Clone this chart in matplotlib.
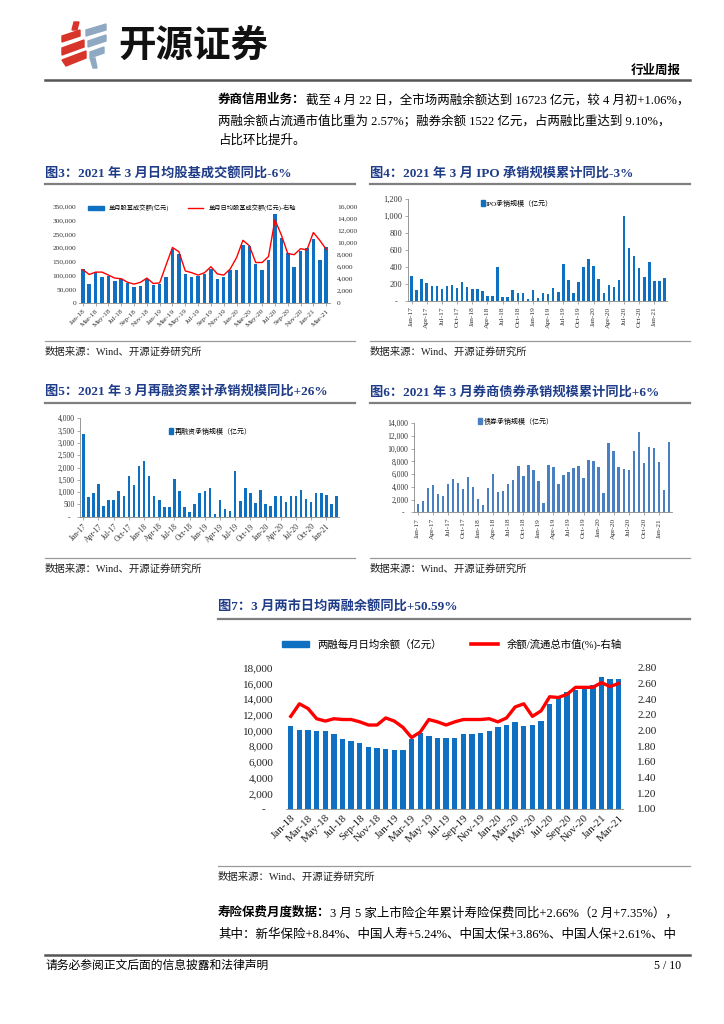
import matplotlib
matplotlib.use("Agg")
import matplotlib.pyplot as plt
from matplotlib.patches import Polygon, Patch
from matplotlib.lines import Line2D
import pandas as pd

plt.rcParams['font.family'] = ['Liberation Serif', 'Noto Sans CJK SC']
plt.rcParams['axes.unicode_minus'] = False

# ---- data ----
months_18 = list(pd.date_range('2018-01-01', '2021-03-01', freq='MS').strftime('%b-%y'))
months_17 = list(pd.date_range('2017-01-01', '2021-03-01', freq='MS').strftime('%b-%y'))

# 图3 股基成交额 (亿元)
turnover_month = [122000, 67000, 112000, 92000, 98000, 80000, 85000, 73000, 57000, 61000, 85000, 64000,
                  70000, 94000, 197000, 178000, 105000, 94000, 97000, 105000, 122000, 85000, 94000, 120000,
                  120000, 209000, 206000, 141000, 120000, 156000, 322000, 237000, 180000, 129000, 188000, 201000,
                  234000, 155000, 202000]
turnover_daily = [5500, 4700, 5100, 5100, 4600, 4100, 4000, 3400, 3100, 3400, 4100, 3200,
                  3300, 6300, 9200, 8500, 5300, 5000, 4600, 5000, 6000, 4800, 4600, 5600,
                  7500, 10400, 9500, 6700, 6700, 7700, 13800, 11300, 8200, 8000, 9000, 8800,
                  11700, 10400, 8900]

# 图4 IPO承销规模 (亿元)
ipo = [300, 125, 253, 206, 171, 171, 144, 171, 187, 156, 218, 160, 136, 144, 121, 54, 62, 405,
       51, 43, 125, 89, 93, 27, 125, 31, 89, 86, 156, 101, 440, 245, 89, 218, 400, 500, 412,
       261, 93, 187, 160, 249, 1000, 626, 525, 393, 280, 459, 237, 230, 276]

# 图5 再融资承销规模 (亿元)
refin = [3380, 800, 950, 1330, 430, 680, 680, 1040, 840, 1655, 1275, 2050, 2265, 1655, 830, 680,
         405, 405, 1530, 1040, 380, 175, 515, 960, 1040, 1165, 95, 680, 300, 230, 1860, 650, 1180,
         950, 540, 1070, 500, 430, 840, 830, 600, 830, 845, 1085, 705, 595, 950, 950, 880, 525, 855]

# 图6 债券承销规模 (亿元)
bond = [1260, 1730, 3830, 4250, 2880, 2570, 4460, 5240, 4610, 3670, 5560, 3980, 2100, 1150, 3880,
        6080, 3250, 3360, 4460, 5090, 7340, 5720, 7390, 6660, 4980, 1470, 7450, 7130, 4510, 5930,
        6400, 6920, 7340, 5400, 8180, 8080, 7130, 3040, 10960, 9650, 7130, 6770, 6660, 9650, 12640,
        7810, 10230, 10170, 7920, 3570, 11070]

# 图7 两融余额 (亿元) 与 余额/流通市值 (%)
margin_bal = [10550, 10050, 10050, 9960, 9880, 9500, 8950, 8660, 8360, 7850, 7770, 7640, 7470,
              7470, 8870, 9710, 9290, 9040, 9040, 9040, 9590, 9590, 9670, 9880, 10430, 10640,
              11020, 10510, 10640, 11190, 13390, 14400, 14900, 15100, 15300, 15800, 16800, 16600, 16500]
margin_ratio = [2.18, 2.34, 2.28, 2.15, 2.12, 2.15, 2.14, 2.14, 2.11, 2.07, 2.07, 2.16, 2.12,
                2.04, 1.91, 1.98, 2.14, 2.11, 2.07, 2.11, 2.14, 2.14, 2.14, 2.15, 2.11, 2.16,
                2.30, 2.34, 2.18, 2.25, 2.43, 2.42, 2.46, 2.55, 2.55, 2.55, 2.61, 2.56, 2.60]

BLUE = '#0f6fc0'
BLUE6 = '#4a7fc1'
RED = '#ff0000'
NAVY = '#1f3c88'
GRAY = '#8c8c8c'

W, H = 724, 1024
fig = plt.figure(figsize=(W / 100, H / 100), dpi=100)
fig.patch.set_facecolor('white')
renderer = fig.canvas.get_renderer()


def px_axes(x0, y0, x1, y1):
    return fig.add_axes([x0 / W, 1 - y1 / H, (x1 - x0) / W, (y1 - y0) / H])


def ftext(x, y, s, **kw):
    kw.setdefault('va', 'center')
    return fig.text(x / W, 1 - y / H, s, **kw)


def hline(y, x0, x1, lw=1.0, color=GRAY):
    fig.add_artist(Line2D([x0 / W, x1 / W], [1 - y / H, 1 - y / H], lw=lw, color=color))


def rich_line(x, y, parts, size=9):
    # parts: list of (text, bold)
    for s, bold in parts:
        t = ftext(x, y, s, fontsize=size, weight='bold' if bold else 'normal', color='black')
        bb = t.get_window_extent(renderer=renderer)
        x += bb.width


def fmt(v, dash='0'):
    return dash if v == 0 else f'{v:,.0f}'


def block_frame(x0, x1, ytitle, yline, ysrc_line, title):
    ftext(x0, ytitle, title, fontsize=9.5, weight='bold', color=NAVY)
    hline(yline, x0, x1, lw=1.6, color='#7f7f7f')
    hline(ysrc_line, x0, x1, lw=0.9, color='#9a9a9a')
    ftext(x0, ysrc_line + 11, '数据来源：Wind、开源证券研究所', fontsize=7.5, color='#222222')


def style_axes(ax, left_spine=True):
    for s in ['top', 'right']:
        ax.spines[s].set_visible(False)
    ax.spines['left'].set_visible(left_spine)
    ax.spines['left'].set_color('#888888')
    ax.spines['bottom'].set_color('#888888')
    ax.spines['left'].set_linewidth(0.6)
    ax.spines['bottom'].set_linewidth(0.6)
    ax.set_facecolor('none')


# ---- page header ----
red_logo = [[(62, 36), (80, 30), (80, 36), (62, 42)],
            [(62, 48), (84, 40), (84, 47), (62, 55)],
            [(62, 60), (86, 51), (86, 58), (66, 66)],
            [(74, 22), (79, 22), (77, 30), (72, 30)]]
for pts in red_logo:
    fig.add_artist(Polygon([(x / W, 1 - y / H) for x, y in pts], closed=True,
                           color='#d7342a', transform=fig.transFigure))
blue_logo = [[(86, 30), (106, 24), (106, 30), (86, 36)],
             [(88, 41), (106, 35), (106, 41), (88, 47)],
             [(90, 52), (104, 47), (104, 53), (90, 58)],
             [(90, 58), (95, 58), (97, 68), (93, 68)]]
for pts in blue_logo:
    fig.add_artist(Polygon([(x / W, 1 - y / H) for x, y in pts], closed=True,
                           color='#8ea9c1', transform=fig.transFigure))
ftext(118, 45, '开源证券', fontsize=27, weight='bold', color='#111111',
      family=['Noto Sans CJK SC'])
ftext(681, 71, '行业周报', fontsize=9, weight='bold', ha='right')
hline(80, 45, 690, lw=1.8, color='#555555')

rich_line(218, 100, [('券商信用业务：', True),
                     ('截至 4 月 22 日，全市场两融余额达到 16723 亿元，较 4 月初+1.06%，', False)])
rich_line(218, 121, [('两融余额占流通市值比重为 2.57%；融券余额 1522 亿元，占两融比重达到 9.10%，', False)])
rich_line(218, 141, [('占比环比提升。', False)])

# ---- 图3 ----
block_frame(45, 355, 174, 184, 341, '图3：2021 年 3 月日均股基成交额同比-6%')
ax3 = px_axes(79, 206.7, 330, 302.7)
x3 = list(range(len(months_18)))
ax3.bar(x3, turnover_month, width=0.55, color=BLUE, label='单月股基成交额(亿元)')
ax3.set_ylim(0, 350000)
ax3.set_xlim(-0.6, len(x3) - 0.4)
ax3.set_yticks(range(0, 350001, 50000))
ax3.set_yticklabels([fmt(v) for v in range(0, 350001, 50000)], fontsize=5.3, color='#333333')
ax3.set_xticks(x3[::2])
ax3.set_xticklabels(months_18[::2], rotation=45, ha='right', rotation_mode='anchor',
                    fontsize=5.3, color='#333333')
ax3.tick_params(axis='y', length=0, pad=2)
ax3.tick_params(axis='x', length=2, width=0.5, color='#888888', pad=2)
style_axes(ax3, left_spine=False)
ax3r = ax3.twinx()
ax3r.plot(x3, turnover_daily, color=RED, lw=1.0, label='单月日均股基成交额(亿元)-右轴')
ax3r.set_ylim(0, 16000)
ax3r.set_yticks(range(0, 16001, 2000))
ax3r.set_yticklabels([fmt(v) for v in range(0, 16001, 2000)], fontsize=5.3, color='#333333')
ax3r.tick_params(axis='y', length=0, pad=5)
for s in ['top', 'right', 'left', 'bottom']:
    ax3r.spines[s].set_visible(False)
h3 = [Patch(color=BLUE), Line2D([], [], color=RED, lw=1.0)]
ax3r.legend(h3, ['单月股基成交额(亿元)', '单月日均股基成交额(亿元)-右轴'], ncol=2, frameon=False,
            loc='center', bbox_to_anchor=(192 / W, 1 - 208 / H), bbox_transform=fig.transFigure,
            fontsize=4.5, handlelength=2.5, handleheight=0.5, columnspacing=3)

# ---- 图4 ----
block_frame(370, 690, 174, 184, 341, '图4：2021 年 3 月 IPO 承销规模累计同比-3%')
ax4 = px_axes(408, 199, 667, 301)
x17 = list(range(len(months_17)))
ax4.bar(x17, ipo, width=0.5, color=BLUE)
ax4.set_ylim(0, 1200)
ax4.set_xlim(-0.7, len(x17) - 0.5)
ax4.set_yticks(range(0, 1201, 200))
ax4.set_yticklabels([fmt(v, '-  ') for v in range(0, 1201, 200)], fontsize=6, color='#333333')
ax4.set_xticks(x17[::3])
ax4.set_xticklabels(months_17[::3], rotation=90, ha='center', va='top', fontsize=5.3, color='#333333')
ax4.tick_params(axis='both', length=2, width=0.5, color='#888888', pad=2)
style_axes(ax4)
ax4.legend([Patch(color=BLUE)], ['IPO承销规模（亿元）'], frameon=False, loc='center',
           bbox_to_anchor=(517 / W, 1 - 203 / H), bbox_transform=fig.transFigure,
           fontsize=5, handlelength=0.6, handleheight=0.9, handletextpad=0.2)

# ---- 图5 ----
block_frame(45, 355, 392, 403, 558, '图5：2021 年 3 月再融资累计承销规模同比+26%')
ax5 = px_axes(80, 418.3, 339, 516.7)
ax5.bar(x17, refin, width=0.5, color=BLUE)
ax5.set_ylim(0, 4000)
ax5.set_xlim(-0.65, len(x17) - 0.5)
ax5.set_yticks(range(0, 4001, 500))
ax5.set_yticklabels([fmt(v, '-  ') for v in range(0, 4001, 500)], fontsize=5.5, color='#333333')
ax5.set_xticks(x17[::3])
ax5.set_xticklabels(months_17[::3], rotation=45, ha='right', rotation_mode='anchor',
                    fontsize=5.5, color='#333333')
ax5.tick_params(axis='both', length=2, width=0.5, color='#888888', pad=2)
style_axes(ax5)
ax5.legend([Patch(color=BLUE)], ['再融资承销规模（亿元）'], frameon=False, loc='center',
           bbox_to_anchor=(210 / W, 1 - 431 / H), bbox_transform=fig.transFigure,
           fontsize=5, handlelength=0.6, handleheight=0.9, handletextpad=0.2)

# ---- 图6 ----
block_frame(370, 690, 392, 403, 558, '图6：2021 年 3 月券商债券承销规模累计同比+6%')
ax6 = px_axes(414, 423.3, 672, 512.3)
ax6.bar(x17, bond, width=0.5, color=BLUE6)
ax6.set_ylim(0, 14000)
ax6.set_xlim(-0.75, len(x17) - 0.4)
ax6.set_yticks(range(0, 14001, 2000))
ax6.set_yticklabels([fmt(v, '-  ') for v in range(0, 14001, 2000)], fontsize=5.5, color='#333333')
ax6.set_xticks(x17[::3])
ax6.set_xticklabels(months_17[::3], rotation=90, ha='center', va='top', fontsize=5.3, color='#333333')
ax6.tick_params(axis='both', length=2, width=0.5, color='#888888', pad=2)
style_axes(ax6)
ax6.legend([Patch(color=BLUE6)], ['债券承销规模（亿元）'], frameon=False, loc='center',
           bbox_to_anchor=(516 / W, 1 - 421 / H), bbox_transform=fig.transFigure,
           fontsize=5, handlelength=0.6, handleheight=0.9, handletextpad=0.2)

# ---- 图7 ----
block_frame(218, 690, 607, 619, 866, '图7：3 月两市日均两融余额同比+50.59%')
ax7 = px_axes(286, 667.7, 623.3, 809)
x7 = list(range(len(months_18)))
ax7.bar(x7, margin_bal, width=0.62, color=BLUE)
ax7.set_ylim(0, 18000)
ax7.set_xlim(-0.55, len(x7) - 0.47)
ax7.set_yticks(range(0, 18001, 2000))
ax7.set_yticklabels([fmt(v, '-   ') for v in range(0, 18001, 2000)], fontsize=8, color='#222222')
ax7.set_xticks(x7[::2])
ax7.set_xticklabels(months_18[::2], rotation=45, ha='right', rotation_mode='anchor',
                    fontsize=8, color='#222222')
ax7.tick_params(axis='y', length=0, pad=9)
ax7.tick_params(axis='x', length=0, pad=3)
style_axes(ax7, left_spine=False)
ax7r = ax7.twinx()
ax7r.plot(x7, margin_ratio, color=RED, lw=2.4)
ax7r.set_ylim(1.0, 2.8)
ax7r.set_yticks([1.0, 1.2, 1.4, 1.6, 1.8, 2.0, 2.2, 2.4, 2.6, 2.8])
ax7r.set_yticklabels([f'{v:.2f}' for v in [1.0, 1.2, 1.4, 1.6, 1.8, 2.0, 2.2, 2.4, 2.6, 2.8]],
                     fontsize=8, color='#222222')
ax7r.tick_params(axis='y', length=0, pad=10)
for s in ['top', 'right', 'left', 'bottom']:
    ax7r.spines[s].set_visible(False)
h7 = [Patch(color=BLUE), Line2D([], [], color=RED, lw=2.6)]
ax7r.legend(h7, ['两融每月日均余额（亿元）', '余额/流通总市值(%)-右轴'], ncol=2, frameon=False,
            loc='center', bbox_to_anchor=(452 / W, 1 - 644 / H), bbox_transform=fig.transFigure,
            fontsize=7.5, handlelength=2.6, handleheight=0.5, columnspacing=2.8)

# ---- bottom text ----
rich_line(218, 913, [('寿险保费月度数据：', True),
                     ('3 月 5 家上市险企年累计寿险保费同比+2.66%（2 月+7.35%），', False)])
rich_line(218, 935, [('其中：新华保险+8.84%、中国人寿+5.24%、中国太保+3.86%、中国人保+2.61%、中', False)])
hline(955, 45, 690, lw=1.8, color='#555555')
ftext(45, 966, '请务必参阅正文后面的信息披露和法律声明', fontsize=8.5)
ftext(681, 966, '5 / 10', fontsize=8.5, ha='right')

fig.savefig('out.png', dpi=100)
